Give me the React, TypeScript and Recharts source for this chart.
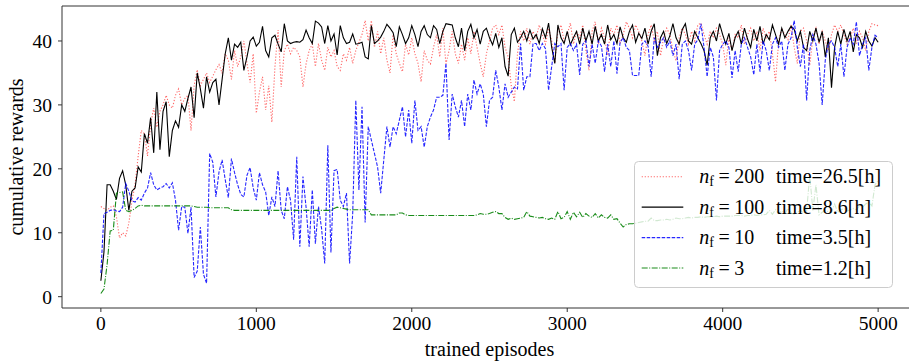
import React from 'react';
import { LineChart, Line, XAxis, YAxis, ReferenceArea, Legend } from 'recharts';

// x categories: trained episode index, sampled every 20 episodes
const EPISODES: number[] = Array.from({ length: 251 }, (_, i) => i * 20);

// n_f = 200
const NF200 = [
  14.1, 13.8, 13.5, 14, 14.2, 12.5, 9.2, 10, 9.5, 11.5,
  15, 17.5, 22, 26, 25.5, 22, 27, 29.5, 26.5, 29,
  30, 31.5, 30, 29.5, 31.5, 32.5, 30, 31, 31.5, 26,
  33, 35.5, 33, 34, 35, 33.5, 34.5, 35.5, 36.3, 35,
  38, 37, 34, 38.5, 36, 37.5, 40, 36.5, 33.5, 38,
  28.7, 32, 34.4, 29.2, 33, 27.3, 36, 41.7, 32.8, 38.5,
  39.5, 38, 39, 38.5, 37.5, 32.8, 36.4, 38.5, 39.5, 36,
  39.6, 37, 35.4, 39, 37.5, 38.5, 36, 35.4, 38, 37,
  39, 36.5, 38.5, 39.8, 41, 43.2, 40, 43.2, 39, 41.5,
  38, 40.5, 37, 35, 41, 38, 36.5, 35.2, 39.5, 37.8,
  40.5, 38, 36.5, 33.6, 38.5, 37, 36.4, 39, 41, 37.5,
  42, 36.4, 38.5, 41.5, 38, 36.5, 39.5, 37, 40.5, 38,
  41.5, 39, 36.5, 34.4, 38, 40, 42, 42.5, 41, 42.5,
  39, 37.5, 33, 30.5, 38, 41.5, 40, 42, 39.5, 41.5,
  40.5, 42.5, 41, 39.5, 42, 40, 36.5, 41.5, 42.5, 40,
  41, 42.8, 39.5, 41.5, 40.5, 42.5, 38.5, 35.4, 41.5, 43,
  39.5, 42, 40.5, 37.7, 42, 41, 42.5, 39.6, 41, 43,
  42, 40.5, 42.5, 41.5, 40, 37.7, 41, 42.5, 40, 41.5,
  37.7, 40.5, 42, 41, 38.5, 36.9, 40.5, 42, 41, 39.5,
  41.5, 40, 42.5, 42.8, 41, 39.5, 41.5, 40.5, 42, 41,
  39.5, 36.2, 40.5, 38.5, 41, 40.5, 42.5, 39.5, 41, 42,
  40, 41.5, 38.5, 42, 40.5, 41.5, 38, 33.6, 40, 42,
  41, 40.2, 42.5, 39, 36.5, 41.5, 42, 40, 36.2, 40.5,
  42, 39.5, 41.5, 40, 38.5, 41, 42.5, 41.5, 42.5, 41,
  39.5, 40.5, 42, 39.6, 41.5, 40.5, 38.5, 41.5, 42.7, 42.5,
  42.4,
];

// n_f = 100
const NF100 = [
  2.5, 7, 17.5, 17.5, 16.5, 15.2, 18.5, 19.7, 17.5, 13.5,
  16.5, 17, 20.3, 19.5, 25.5, 24, 28, 22.5, 32, 23,
  29, 30.5, 21.9, 26, 27.5, 26.5, 30, 29, 31, 32.8,
  28, 35, 32.5, 29.5, 34.4, 32, 33.5, 34, 30, 34,
  38, 40.5, 37, 39.5, 39, 39.8, 35.4, 37.5, 40, 40.6,
  39.2, 39.8, 42.3, 38.5, 37.5, 40.5, 40.9, 39.5, 38.3, 42.7,
  40, 39.6, 39.8, 39.9, 39.8, 40.2, 41.7, 40.5, 39.6, 43.1,
  42.8, 42.2, 39.6, 42.4, 40, 41.1, 37.8, 42.4, 40.5, 39.6,
  39.8, 41.1, 39.5, 39.6, 39.8, 37.5, 37.2, 42.4, 39.6, 40,
  40.6, 41.5, 42.6, 42, 41.3, 39.1, 42.2, 41, 39.6, 40.5,
  42.4, 41, 39.1, 41.5, 42.4, 41, 40.5, 42.4, 41.8, 39.6,
  41.5, 42.7, 42.6, 42.5, 40.5, 39.1, 42, 38.5, 41.5, 42.6,
  40.5, 41.8, 39.5, 41.5, 42, 40.5, 39.4, 41.2, 39, 40.5,
  36, 34.5, 41, 42, 39.8, 40.5, 41.5, 40, 41.7, 40.3,
  41, 39.6, 41.9, 40.5, 42.8, 39, 36.5, 42.5, 40.5, 39.6,
  41.5, 39.4, 40.5, 41.5, 39.5, 42, 40, 41.5, 39.5, 42.3,
  40, 41, 39.5, 42.5, 40.2, 41, 39.6, 42.2, 40.5, 39.8,
  41.5, 42.5, 39.8, 41.2, 40.4, 42, 39.5, 41.5, 42.7, 37.7,
  40.5, 41.5, 39.6, 40.8, 42.7, 40.5, 39.5, 41.8, 42.7, 40,
  39.5, 41.5, 40.5, 39.6, 38.5, 36.2, 40.5, 41.5, 40, 42.7,
  41, 39.5, 41.2, 38.5, 40.5, 41.5, 39.5, 42, 40.3, 39,
  41.8, 40, 42.3, 39.5, 41, 40.2, 42.5, 41, 39.5, 42,
  40.5, 41.5, 42.3, 41.8, 40, 41.5, 39, 38.5, 41.5, 40,
  42, 39.8, 41.5, 37.5, 40.5, 32.7, 39, 41.5, 39.5, 41.8,
  40, 41.5, 38.3, 41, 40.5, 39, 41.5, 40, 39.2, 40.5,
  39.8,
];

// n_f = 10
const NF10 = [
  3.7, 13, 13.2, 13.5, 13.6, 13.4, 13.3, 14, 17.7, 16.5,
  15, 14.8, 15.5, 15.1, 16.2, 17, 19.4, 17.5, 16.7, 17,
  17.2, 17.7, 17, 17.8, 15.1, 10.4, 14.1, 14, 9.9, 14,
  3, 4, 10.9, 3.5, 2.1, 22.4, 21, 15.6, 19.5, 21.4,
  18.3, 15.5, 21.6, 19.4, 17.5, 16, 15.6, 19, 20.2, 17,
  15.1, 19.4, 17.5, 16.4, 12.7, 15.6, 14.1, 19.7, 13.5, 12.2,
  17.2, 15.1, 8.9, 21.9, 7.8, 18.8, 14, 7.8, 16.7, 8.3,
  14.1, 10.6, 5.2, 23.7, 6.9, 19.7, 19.9, 15.1, 14.1, 16.2,
  5.2, 13, 30.7, 16.7, 29.7, 11.6, 26.6, 24.5, 22.4, 20.3,
  16.2, 21.4, 26.6, 23.4, 26.6, 25.5, 27.6, 29.7, 25, 29.2,
  24, 30.7, 26, 26.6, 23.4, 26.6, 28.1, 29.2, 31.2, 31.2,
  31.5, 36.5, 24.5, 31.7, 29.7, 28.1, 30.7, 26.6, 31.7, 29.2,
  33.9, 31.7, 33.3, 31.7, 26.6, 30.7, 31.2, 35.4, 32.8, 29.2,
  33.3, 31.2, 32, 32.8, 32.5, 39.6, 32.3, 34.4, 34.4, 39.6,
  39.6, 38.5, 39.6, 38.8, 32.3, 36, 39.6, 39.1, 39.6, 32.3,
  39, 39.6, 38.5, 39.5, 34.7, 39.5, 40, 36, 39.5, 36.5,
  40, 39.2, 35.2, 39.5, 36, 40, 34.9, 39.8, 40.5, 39,
  38.5, 34.6, 34.6, 34.6, 39.5, 40, 39.2, 34.4, 40.5, 39,
  39.8, 40.5, 39, 40, 37.7, 39.5, 34, 39.5, 40, 38.5,
  35.4, 39.5, 40.2, 42.7, 39, 34.4, 39, 37.5, 30.7, 38.5,
  39.5, 40, 39, 34.2, 38.5, 35.2, 39.5, 40.5, 39, 37.5,
  34.7, 39.5, 35.2, 40, 38.5, 35.4, 39.5, 40.5, 39, 40,
  35.4, 39.5, 40.5, 43.2, 39, 36, 39.5, 30.7, 38.5, 41,
  39.5, 36.5, 30, 37, 39.5, 40, 39, 36, 39.5, 34.4,
  39, 40.5, 39.5, 43, 37.7, 39.5, 40.5, 35.4, 39, 40.9,
  40.5,
];

// n_f = 3
const NF3 = [
  0.5, 1.2, 5, 10.3, 10.4, 16.2, 16.3, 16.4, 13.5, 13.3,
  13.5, 13.8, 14.2, 14.3, 14.2, 14.2, 14.2, 14.2, 14.2, 14.2,
  14.2, 14.2, 14.2, 14.2, 14.2, 14.2, 14.2, 14.2, 14.2, 14.2,
  14.1, 14, 14, 14, 14, 13.9, 13.9, 13.9, 13.9, 13.9,
  13.9, 13.9, 13.6, 13.5, 13.5, 13.5, 13.5, 13.5, 13.5, 13.5,
  13.5, 13.5, 13.5, 13.5, 13.5, 13.5, 13.5, 13.5, 13.5, 13.5,
  13.5, 13.5, 13.5, 13.5, 13.5, 13.5, 13.5, 13.5, 13.5, 13.5,
  13.5, 13.5, 13.5, 13.5, 13.5, 13.8, 14, 13.9, 13.8, 13.7,
  13.6, 13.6, 13.6, 13.6, 13.6, 13.6, 13.6, 12.8, 12.8, 12.8,
  12.8, 12.8, 12.8, 12.8, 12.8, 12.8, 13.1, 13.1, 12.8, 12.7,
  12.7, 12.7, 12.7, 12.7, 12.7, 12.7, 12.7, 12.7, 12.7, 12.7,
  12.7, 12.7, 12.7, 12.7, 12.7, 12.7, 12.7, 12.7, 12.7, 12.7,
  12.7, 12.8, 13, 12.9, 12.9, 13, 13.2, 13.3, 13, 13,
  12.4, 12.1, 12.3, 12.1, 12.2, 12.3, 12.4, 13.3, 12.6, 12.5,
  12.4, 12.3, 12.4, 12.2, 12.1, 12.3, 12.1, 13.3, 12.2, 12.4,
  13.3, 12.1, 13.2, 12.5, 13.2, 12.4, 13, 12.6, 12.4, 13,
  12.3, 12.8, 12.4, 12.3, 12.8, 12.1, 12.2, 11.5, 10.9, 11.3,
  11.4, 11.4, 11.5, 11.6, 11.7, 11.8, 11.8, 12.3, 11.9, 11.9,
  12, 12, 12.1, 12, 12.1, 12.3, 12.2, 12.2, 12.3, 12.4,
  12.3, 12.4, 12.4, 12.5, 12.4, 12.5, 12.5, 12.5, 12.6, 12.5,
  12.6, 12.6, 12.6, 12.6, 12.7, 12.7, 12.7, 12.6, 12.7, 12.7,
  12.8, 12.7, 12.8, 12.8, 12.9, 13.5, 12.9, 13.6, 13, 13.4,
  13, 13.8, 13.1, 12.9, 13.2, 13.5, 13.1, 13.4, 19, 13.5,
  17.5, 12.8, 13.2, 13.5, 13.3, 13.2, 14.5, 13.2, 13.6, 13.8,
  13.4, 13.6, 13.8, 13.6, 14.2, 14, 14.5, 14.8, 14.2, 17.5,
  18.2,
];

const X_TICKS = [0, 1000, 2000, 3000, 4000, 5000];
const Y_TICKS = [0, 10, 20, 30, 40];
const LEGEND_NF = ['200', '100', '10', '3'];
const LEGEND_TIME = ['26.5', '8.6', '3.5', '1.2'];

const SERIES = [
  { key: 'nf200', color: '#ff0000', opacity: 0.6, dash: '1.2 1.8', width: 1.1 },
  { key: 'nf100', color: '#000000', opacity: 1, dash: undefined as string | undefined, width: 1.1 },
  { key: 'nf10', color: '#0000ff', opacity: 0.85, dash: '3.5 1.5', width: 1.1 },
  { key: 'nf3', color: '#008000', opacity: 0.9, dash: '6 1.5 1 1.5', width: 1.1 },
];

const DATA = EPISODES.map((ep, i) => ({
  ep,
  nf200: NF200[i],
  nf100: NF100[i],
  nf10: NF10[i],
  nf3: NF3[i],
}));

const FONT = '"Liberation Serif", "Times New Roman", serif';

function LegendBox() {
  return (
    <svg width={259} height={127} style={{ display: 'block' }}>
      <rect x={0.5} y={0.5} width={258} height={126} rx={4} ry={4}
        fill="#ffffff" fillOpacity={0.8} stroke="#cccccc" strokeWidth={1} />
      {SERIES.map((s, i) => {
        const cy = 15.7 + i * 30.45;
        return (
          <g key={s.key}>
            <line x1={7.7} x2={49.3} y1={cy} y2={cy} stroke={s.color} strokeOpacity={s.opacity}
              strokeWidth={s.width} strokeDasharray={s.dash} />
            <text x={65.3} y={cy + 6.6} fontFamily={FONT} fontSize={20} fill="#000">
              <tspan fontStyle="italic">n</tspan>
              <tspan fontSize={14} dy={3}>f</tspan>
              <tspan dy={-3} dx={4.5}>=</tspan>
              <tspan dx={4.5}>{LEGEND_NF[i]}</tspan>
            </text>
            <text x={142} y={cy + 6.6} fontFamily={FONT} fontSize={20} fill="#000">
              {`time=${LEGEND_TIME[i]}[h]`}
            </text>
          </g>
        );
      })}
    </svg>
  );
}

const XLabel = (props: any) => {
  const vb = props.viewBox || { x: 62, y: 308, width: 855, height: 55 };
  return (
    <text x={vb.x + vb.width / 2} y={vb.y + 48} textAnchor="middle"
      fontFamily={FONT} fontSize={20} fill="#000">trained episodes</text>
  );
};

const YLabel = (props: any) => {
  const vb = props.viewBox || { x: 0, y: 6, width: 62, height: 302 };
  const x = vb.x + 23.4;
  const y = vb.y + vb.height / 2;
  return (
    <text x={x} y={y} transform={`rotate(-90 ${x} ${y})`} textAnchor="middle"
      fontFamily={FONT} fontSize={20} fill="#000">cumulative rewards</text>
  );
};

export default function App() {
  const tickStyle = { fontFamily: FONT, fontSize: 19.5, fill: '#000' };
  return (
    <div style={{ position: 'absolute', left: 0, top: 0, width: 909, height: 363, overflow: 'hidden', background: '#fff' }}>
      <LineChart width={925} height={363} data={DATA} margin={{ top: 6, right: 8, bottom: 0, left: 0 }}>
        <XAxis dataKey="ep" type="number" domain={[-250, 5250]} ticks={X_TICKS} interval={0}
          allowDataOverflow height={55} tickSize={4} tickMargin={4} axisLine={false}
          tickLine={{ stroke: '#333', strokeWidth: 1 }} tick={tickStyle}
          label={{ content: XLabel }} />
        <YAxis type="number" domain={[-1.77, 45.47]} ticks={Y_TICKS} interval={0}
          allowDataOverflow width={62} tickSize={4} tickMargin={6} axisLine={false}
          tickLine={{ stroke: '#333', strokeWidth: 1 }} tick={tickStyle}
          label={{ content: YLabel }} />
        <ReferenceArea x1={-250} x2={5250} y1={-1.77} y2={45.47} fill="none"
          stroke="#333" strokeWidth={1} ifOverflow="visible" />
        {SERIES.map((s) => (
          <Line key={s.key} type="linear" dataKey={s.key} stroke={s.color} strokeOpacity={s.opacity}
            strokeWidth={s.width} strokeDasharray={s.dash} dot={false} activeDot={false}
            isAnimationActive={false} />
        ))}
        <Legend layout="vertical" align="center" verticalAlign="middle"
          wrapperStyle={{ left: 634, top: 161, width: 259, height: 127, lineHeight: 0 }}
          content={() => <LegendBox />} />
      </LineChart>
    </div>
  );
}
